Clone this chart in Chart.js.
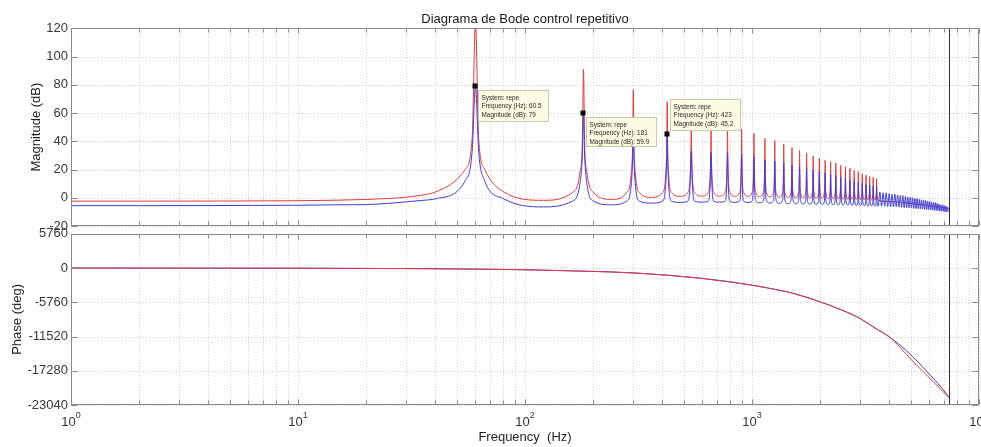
<!DOCTYPE html>
<html lang="es">
<head>
<meta charset="utf-8">
<title>Diagrama de Bode control repetitivo</title>
<script src="https://cdn.jsdelivr.net/npm/chart.js@4/dist/chart.umd.min.js"></script>
<style>
  html, body { margin: 0; padding: 0; background: #fff; }
  #lienzo { position: relative; width: 981px; height: 447px; overflow: hidden; }
  .panel { position: absolute; left: 0; width: 981px; }
  #panelMag { top: 0; height: 240px; }
  #panelFase { top: 223px; height: 224px; }
</style>
</head>
<body>
<div id="lienzo">
  <div class="panel" id="panelMag"><canvas id="plotMag"></canvas></div>
  <div class="panel" id="panelFase"><canvas id="plotFase"></canvas></div>
</div>
<script>
// Tramo plano antes del primer pico
let bajoHz = [1, 2, 5, 10, 15, 20, 25, 30, 35]
let rojoBajoDb = [-2.4, -2.4, -2.3, -2.1, -1.7, -1.2, -0.5, 0.4, 1.8]
let azulBajoDb = [-5.6, -5.6, -5.5, -5.3, -5.0, -4.8, -4.0, -2.9, -1.9]

// Armonicos impares donde resuena el control repetitivo
let armonicosHz = [60.5, 181, 300, 423, 540, 660, 780, 900, 1020, 1140, 1260, 1380, 1500, 1620, 1740,
  1860, 1980, 2100, 2220, 2340, 2460, 2580, 2700, 2820, 2940, 3060, 3180, 3300, 3420, 3540]

// Magnitud en cada pico y a +-2, +-6, +-20 Hz del pico, y en el valle siguiente (+60 Hz)
let rojoPicoDb = [125, 91, 76.5, 68, 48, 48.5, 50, 48.5, 45.5, 42, 40.5, 38, 35.5, 33.5, 31.5,
  29.5, 28, 26.5, 25.5, 24.5, 23, 22, 21, 19.5, 18.5, 17, 16, 15, 14.5, 13.5]
let azulPicoDb = [79, 59.9, 52, 45.2, 33, 32, 32, 31, 29, 27, 26, 24.5, 23, 22, 21,
  19.5, 18.5, 17.5, 16.5, 15.5, 14.5, 13.5, 12.5, 11.5, 11, 10, 9.5, 9, 8.5, 8]
let rojoInternoDb = [42, 40, 38, 36, 34, 33, 33, 32, 31, 30, 29, 28, 27.5, 27, 26,
  25, 24, 23, 22, 21, 20, 19, 18, 17, 16, 15, 14, 13, 12.5, 12]
let azulInternoDb = [33, 31, 29, 28, 26, 25, 25, 24, 23, 22, 21, 20, 19, 18.5, 18,
  17, 16, 15, 14, 13.5, 13, 12, 11, 10.5, 10, 9, 8.5, 8, 7.5, 7]
let rojoCercaDb = [20, 19, 18, 17, 16, 16, 15.5, 15, 15, 14.5, 14, 13.5, 13, 12.5, 12,
  12, 11.5, 11, 10.5, 10, 10, 9.5, 9, 8.5, 8, 8, 7.5, 7, 7, 6.5]
let azulCercaDb = [12, 11, 10, 10, 9.5, 9, 9, 8.5, 8.5, 8, 8, 7.5, 7, 7, 6.5,
  6.5, 6, 6, 5.5, 5.5, 5, 5, 4.5, 4.5, 4, 4, 3.5, 3.5, 3, 3]
let rojoLejosDb = [4.2, 3.5, 3.5, 3.5, 3.5, 3.5, 3.5, 3.5, 3.5, 3.5, 3, 3, 3, 3, 3,
  3, 3, 3, 2.5, 2.5, 2.5, 2.5, 2.5, 2, 2, 2, 2, 2, 1.5, 1.5]
let azulLejosDb = [-0.7, -2.5, -2.5, -2.5, -2.5, -2.5, -2.5, -2.5, -2.5, -2.5, -2.5, -2.5, -2.5, -2.5, -3,
  -3, -3, -3, -3, -3, -3, -3, -3, -3, -3.5, -3.5, -3.5, -3.5, -3.5, -3.5]
let rojoValleDb = [-1.8, -1.2, 0.3, 1, 1.2, 1.2, 1, 1, 0.8, 0.6, 0.4, 0.2, 0, -0.2, -0.3,
  -0.4, -0.5, -0.6, -0.7, -0.8, -0.9, -1, -1, -1.1, -1.2, -1.3, -1.4, -1.5, -1.6, -1.8]
let azulValleDb = [-6.5, -5, -3.8, -3.3, -3.1, -3.1, -3.2, -3.3, -3.5, -3.7, -3.9, -4.1, -4.3, -4.4, -4.5,
  -4.6, -4.7, -4.8, -4.9, -5, -5.1, -5.2, -5.3, -5.4, -5.5, -5.6, -5.7, -5.8, -5.9, -6]

// Cola de alta frecuencia: rizado del sistema azul y caida suave del rojo
let colaAzulHz = [3660, 3780, 3900, 4020, 4140, 4260, 4380, 4500, 4620, 4740, 4860, 4980, 5100, 5220, 5340, 5460,
  5580, 5700, 5820, 5940, 6060, 6180, 6300, 6420, 6540, 6660, 6780, 6900, 7020, 7140, 7260]
let colaAzulPicoDb = [4, 3.5, 3.5, 3, 2.5, 2.5, 2, 1.5, 1.5, 1, 0.5, 0.5, 0, -0.5, -0.5, -1,
  -1.5, -1.5, -2, -2.5, -2.5, -3, -3.5, -3.5, -4, -4.5, -5, -5, -5.5, -6, -6.5]
let colaAzulValleDb = [-6, -6, -6.2, -6.3, -6.5, -6.5, -6.7, -6.8, -7, -7, -7.2, -7.3, -7.5, -7.6, -7.8, -8,
  -8, -8.2, -8.3, -8.5, -8.6, -8.8, -9, -9, -9.2, -9.3, -9.5, -9.6, -9.8, -10, -10]
let colaRojoHz = [4200, 5000, 6000, 7000, 7400]
let colaRojoDb = [-2.8, -4, -5.5, -7, -7.5]

// Fase (grados)
let faseHz = [1, 10, 30, 60, 100, 180, 300, 600, 1000, 1250, 1500, 2000, 2500, 3000, 3500,
  4000, 4500, 5100, 5700, 6300, 6900, 7400]
let faseRojoDeg = [0, -30, -90, -175, -290, -520, -820, -1740, -2880, -3560, -4200, -5700, -7100, -8500, -10150,
  -11500, -13400, -15650, -17500, -19150, -20700, -21800]
let faseAzulDeg = [0, -30, -90, -175, -290, -520, -820, -1740, -2880, -3560, -4200, -5700, -7100, -8500, -10150,
  -11500, -13000, -14900, -16800, -18580, -20300, -21800]

// Marcadores de datos sobre la curva azul
let tipHz = [60.5, 181, 423]
let tipDb = [79, 59.9, 45.2]

let nyquistHz = 7400
let fuente = '"Liberation Sans", Arial, Helvetica, sans-serif'
let colorRojo = 'rgb(226,58,64)'
let colorAzul = 'rgb(62,62,214)'

Chart.defaults.font.family = fuente

let marcasX = []
;[1, 10, 100, 1000].forEach(d => { for (let k = 1; k < 10; k++) marcasX.push(k * d) })
marcasX.push(10000)

let armarMagnitud = (bajoDb, picoDb, internoDb, cercaDb, lejosDb, valleDb) => {
  let puntos = bajoHz.map((hz, i) => ({x: hz, y: bajoDb[i]}))
  armonicosHz.forEach((hz, i) => {
    puntos.push(
      {x: hz - 20, y: lejosDb[i]}, {x: hz - 6, y: cercaDb[i]}, {x: hz - 2, y: internoDb[i]},
      {x: hz, y: picoDb[i]},
      {x: hz + 2, y: internoDb[i]}, {x: hz + 6, y: cercaDb[i]}, {x: hz + 20, y: lejosDb[i]},
      {x: hz + 60, y: valleDb[i]})
  })
  return puntos
}

let magRojo = armarMagnitud(rojoBajoDb, rojoPicoDb, rojoInternoDb, rojoCercaDb, rojoLejosDb, rojoValleDb)
colaRojoHz.forEach((hz, i) => magRojo.push({x: hz, y: colaRojoDb[i]}))

let magAzul = armarMagnitud(azulBajoDb, azulPicoDb, azulInternoDb, azulCercaDb, azulLejosDb, azulValleDb)
colaAzulHz.forEach((hz, i) => magAzul.push({x: hz, y: colaAzulPicoDb[i]}, {x: hz + 60, y: colaAzulValleDb[i]}))

let faseRojo = faseHz.map((hz, i) => ({x: hz, y: faseRojoDeg[i]}))
let faseAzul = faseHz.map((hz, i) => ({x: hz, y: faseAzulDeg[i]}))

// Rejilla punteada, caja con marcas hacia dentro, linea de Nyquist y globos de datos
let marcoBode = {
  id: 'marcoBode',
  beforeDatasetsDraw(chart) {
    let {ctx, chartArea: a, scales: {x, y}} = chart
    ctx.save()
    ctx.strokeStyle = '#cfcfcf'
    ctx.lineWidth = 1
    ctx.setLineDash([1, 2])
    ctx.beginPath()
    x.ticks.forEach(t => {
      let px = Math.round(x.getPixelForValue(t.value)) + 0.5
      ctx.moveTo(px, a.top); ctx.lineTo(px, a.bottom)
    })
    y.ticks.forEach(t => {
      let py = Math.round(y.getPixelForValue(t.value)) + 0.5
      ctx.moveTo(a.left, py); ctx.lineTo(a.right, py)
    })
    ctx.stroke()
    ctx.restore()
  },
  afterDatasetsDraw(chart, args, opts) {
    let {ctx, chartArea: a, scales: {x, y}} = chart
    ctx.save()
    let l = Math.round(a.left) + 0.5, r = Math.round(a.right) - 0.5
    let t = Math.round(a.top) + 0.5, b = Math.round(a.bottom) - 0.5

    // linea vertical de Nyquist
    let nx = Math.round(x.getPixelForValue(nyquistHz)) + 0.5
    ctx.strokeStyle = '#2e2e2e'
    ctx.beginPath(); ctx.moveTo(nx, t); ctx.lineTo(nx, b); ctx.stroke()

    ctx.strokeStyle = '#8a8a8a'
    ctx.lineWidth = 1
    ctx.strokeRect(l, t, r - l, b - t)
    ctx.beginPath()
    x.ticks.forEach(tk => {
      let px = Math.round(x.getPixelForValue(tk.value)) + 0.5
      let largo = [1, 10, 100, 1000, 10000].includes(tk.value) ? 5 : 4
      ctx.moveTo(px, b); ctx.lineTo(px, b - largo)
      ctx.moveTo(px, t); ctx.lineTo(px, t + largo)
    })
    y.ticks.forEach(tk => {
      let py = Math.round(y.getPixelForValue(tk.value)) + 0.5
      ctx.moveTo(l, py); ctx.lineTo(l + 6, py)
      ctx.moveTo(r, py); ctx.lineTo(r - 6, py)
    })
    ctx.stroke()

    // etiquetas 10^n del eje de frecuencia
    if (opts.exponentes) {
      ctx.fillStyle = '#333'
      ctx.textBaseline = 'alphabetic'
      ;[0, 1, 2, 3, 4].forEach(n => {
        let px = x.getPixelForValue(Math.pow(10, n))
        ctx.font = '13px ' + fuente
        let w1 = ctx.measureText('10').width
        ctx.font = '9px ' + fuente
        let w2 = ctx.measureText(String(n)).width
        let x0 = px - (w1 + w2) / 2
        ctx.font = '13px ' + fuente
        ctx.textAlign = 'left'
        ctx.fillText('10', x0, a.bottom + 21)
        ctx.font = '9px ' + fuente
        ctx.fillText(String(n), x0 + w1, a.bottom + 12.5)
      })
    }

    // globos con los valores de los marcadores
    if (opts.cajas) {
      tipHz.forEach((hz, i) => {
        let px = x.getPixelForValue(hz), py = y.getPixelForValue(tipDb[i])
        let caja = opts.cajas[i]
        let lineas = ['System: repe', `Frequency (Hz): ${hz}`, `Magnitude (dB): ${tipDb[i]}`]
        ctx.font = '6.4px ' + fuente
        let ancho = Math.round(Math.max(...lineas.map(s => ctx.measureText(s).width)) + 10)
        let x0 = Math.round(px + caja.dx) + 0.5, y0 = Math.round(py + caja.dy) + 0.5
        ctx.fillStyle = '#fcfbe3'
        ctx.strokeStyle = '#cbc9aa'
        ctx.fillRect(x0, y0, ancho, caja.alto)
        ctx.strokeRect(x0, y0, ancho, caja.alto)
        ctx.fillStyle = '#2a2a2a'
        ctx.textAlign = 'left'
        ctx.textBaseline = 'alphabetic'
        lineas.forEach((s, k) => ctx.fillText(s, x0 + 3, y0 + 9.5 + k * 8.4))
        ctx.fillStyle = '#000'
        ctx.fillRect(Math.round(px) - 2.5, Math.round(py) - 2.5, 5, 5)
      })
    }
    ctx.restore()
  }
}

let ejeX = (titulo) => ({
  type: 'logarithmic',
  min: 1,
  max: 10000,
  afterBuildTicks: s => { s.ticks = marcasX.map(v => ({value: v})) },
  afterFit: s => { s.height = titulo ? 42 : 0 },
  grid: {display: false, drawTicks: false},
  border: {display: false},
  ticks: {display: false},
  title: titulo
    ? {display: true, text: titulo, color: '#1e1e1e', font: {size: 13}, padding: {top: 4, bottom: 2}}
    : {display: false}
})

let ejeY = (min, max, paso, ancho, titulo) => ({
  min: min,
  max: max,
  afterFit: s => { s.width = ancho },
  grid: {display: false, drawTicks: false},
  border: {display: false},
  ticks: {stepSize: paso, padding: 3, color: '#383838', font: {size: 13}, callback: v => String(v)},
  title: {display: true, text: titulo, color: '#1e1e1e', font: {size: 13}, padding: {top: 4, bottom: 4}}
})

let linea = (datos, color) => ({
  data: datos,
  borderColor: color,
  borderWidth: 1,
  pointRadius: 0,
  fill: false,
  cubicInterpolationMode: 'monotone'
})

// Magnitud
let plotMag = document.getElementById('plotMag')
let chartMag = new Chart(plotMag, {
  type: 'line',
  data: {datasets: [linea(magAzul, colorAzul), linea(magRojo, colorRojo)]},
  options: {
    responsive: true,
    maintainAspectRatio: false,
    animation: false,
    events: [],
    layout: {padding: {left: 25, right: 2, top: 0, bottom: 14}},
    scales: {
      x: ejeX(null),
      y: ejeY(-20, 120, 20, 46, 'Magnitude (dB)')
    },
    plugins: {
      legend: {display: false},
      tooltip: {enabled: false},
      title: {
        display: true,
        fullSize: false,
        text: 'Diagrama de Bode control repetitivo',
        color: '#1a1a1a',
        font: {size: 13, weight: 'normal'},
        padding: {top: 12, bottom: 0.7}
      },
      marcoBode: {cajas: [{dx: 3, dy: 4, alto: 31}, {dx: 3, dy: 4, alto: 29}, {dx: 3, dy: -35, alto: 31}]}
    }
  },
  plugins: [marcoBode]
})

// Fase
let plotFase = document.getElementById('plotFase')
let chartFase = new Chart(plotFase, {
  type: 'line',
  data: {datasets: [linea(faseRojo, colorRojo), linea(faseAzul, colorAzul)]},
  options: {
    responsive: true,
    maintainAspectRatio: false,
    animation: false,
    events: [],
    layout: {padding: {left: 6, right: 2, top: 6, bottom: 0}},
    scales: {
      x: ejeX('Frequency  (Hz)'),
      y: ejeY(-23040, 5760, 5760, 65, 'Phase (deg)')
    },
    plugins: {
      legend: {display: false},
      tooltip: {enabled: false},
      marcoBode: {exponentes: true}
    }
  },
  plugins: [marcoBode]
})
</script>
</body>
</html>
